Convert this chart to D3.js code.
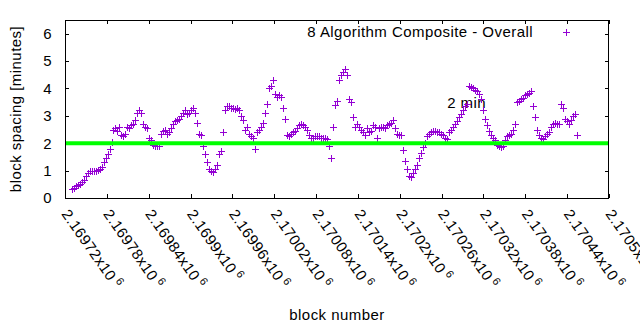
<!DOCTYPE html>
<html>
<head>
<meta charset="utf-8">
<script src="https://cdn.jsdelivr.net/npm/d3@7"></script>
<style>
    body { margin: 0; background: #fff; }
    text { font-family: "Liberation Sans", Arial, sans-serif; font-size: 15px; letter-spacing: 0.45px; fill: #000; }
</style>
</head>
<body>
<div id="container"></div>
<script>
const WIDTH = 640;
const HEIGHT = 330;
const LEFT = 65;
const RIGHT = 609;
const TOP = 20;
const BOTTOM = 198;
const TICK = 4;

var BLOCKS = [
    2169730, 2169733, 2169736, 2169739, 2169742, 2169744, 2169747, 2169750, 2169753, 2169756,
    2169759, 2169762, 2169764, 2169767, 2169770, 2169773, 2169776, 2169779, 2169782, 2169785,
    2169787, 2169789, 2169792, 2169795, 2169797, 2169800, 2169803, 2169806, 2169809, 2169812,
    2169815, 2169818, 2169820, 2169823, 2169826, 2169829, 2169832, 2169835, 2169838, 2169840,
    2169843, 2169846, 2169849, 2169852, 2169855, 2169858, 2169861, 2169863, 2169866, 2169869,
    2169872, 2169875, 2169878, 2169881, 2169883, 2169886, 2169889, 2169892, 2169895, 2169898,
    2169901, 2169904, 2169906, 2169909, 2169912, 2169915, 2169918, 2169921, 2169924, 2169926,
    2169929, 2169932, 2169935, 2169938, 2169941, 2169944, 2169947, 2169949, 2169952, 2169955,
    2169958, 2169961, 2169964, 2169967, 2169969, 2169972, 2169975, 2169978, 2169981, 2169984,
    2169987, 2169990, 2169992, 2169995, 2169998, 2170001, 2170004, 2170007, 2170010, 2170013,
    2170015, 2170018, 2170021, 2170024, 2170027, 2170030, 2170033, 2170035, 2170038, 2170041,
    2170044, 2170047, 2170050, 2170053, 2170056, 2170058, 2170061, 2170064, 2170067, 2170070,
    2170073, 2170076, 2170078, 2170081, 2170084, 2170087, 2170090, 2170093, 2170096, 2170099,
    2170101, 2170104, 2170107, 2170110, 2170113, 2170116, 2170119, 2170121, 2170124, 2170127,
    2170130, 2170133, 2170136, 2170139, 2170142, 2170144, 2170147, 2170150, 2170153, 2170156,
    2170159, 2170162, 2170164, 2170167, 2170170, 2170173, 2170176, 2170179, 2170182, 2170185,
    2170187, 2170190, 2170193, 2170196, 2170199, 2170202, 2170205, 2170208, 2170210, 2170213,
    2170216, 2170219, 2170222, 2170225, 2170228, 2170230, 2170233, 2170236, 2170239, 2170242,
    2170245, 2170248, 2170251, 2170253, 2170256, 2170259, 2170262, 2170265, 2170268, 2170271,
    2170273, 2170276, 2170279, 2170282, 2170285, 2170288, 2170291, 2170294, 2170296, 2170299,
    2170302, 2170305, 2170308, 2170311, 2170314, 2170316, 2170319, 2170322, 2170325, 2170328,
    2170331, 2170334, 2170337, 2170339, 2170342, 2170345, 2170348, 2170351, 2170354, 2170357,
    2170359, 2170362, 2170365, 2170368, 2170371, 2170374, 2170377, 2170380, 2170382, 2170385,
    2170388, 2170391, 2170394, 2170397, 2170400, 2170402, 2170405, 2170408, 2170411, 2170414,
    2170417, 2170420, 2170423, 2170425, 2170428, 2170431, 2170434, 2170437, 2170440, 2170443,
    2170446, 2170448, 2170451, 2170454
];

var SPACING = [
    0.33, 0.38, 0.42, 0.48, 0.52, 0.58, 0.65, 0.80, 0.92, 0.98,
    1.00, 0.97, 1.00, 1.02, 1.05, 1.15, 1.30, 1.45, 1.60, 1.80,
    2.05, 2.50, 2.55, 2.45, 2.60, 2.30, 2.25, 2.35, 2.60, 2.55,
    2.65, 2.70, 2.85, 3.10, 3.20, 3.10, 2.70, 2.60, 2.55, 2.20,
    2.10, 1.95, 1.90, 1.90, 1.90, 2.35, 2.45, 2.50, 2.35, 2.40,
    2.55, 2.70, 2.80, 2.85, 2.90, 3.00, 3.10, 3.20, 3.05, 3.10,
    3.20, 3.30, 3.10, 2.75, 2.35, 2.30, 1.90, 1.60, 1.30, 1.05,
    1.00, 0.95, 1.05, 1.20, 1.60, 1.70, 2.40, 3.20, 3.35, 3.35,
    3.30, 3.30, 3.25, 3.30, 3.20, 3.00, 2.85, 2.50, 2.60, 2.35,
    2.25, 2.20, 1.80, 2.40, 2.50, 2.60, 2.75, 3.10, 3.45, 4.00,
    4.10, 4.30, 3.80, 3.70, 3.75, 3.70, 3.30, 2.90, 2.30, 2.25,
    2.35, 2.40, 2.45, 2.55, 2.65, 2.70, 2.65, 2.60, 2.50, 2.30,
    2.20, 2.20, 2.25, 2.25, 2.25, 2.20, 2.20, 2.20, 2.15, 1.90,
    1.45, 2.60, 3.40, 3.55, 4.30, 4.50, 4.60, 4.70, 4.50, 3.60,
    3.50, 2.95, 2.60, 2.70, 2.60, 2.50, 2.40, 2.30, 2.55, 2.40,
    2.45, 2.65, 2.60, 2.20, 2.55, 2.60, 2.60, 2.55, 2.65, 2.70,
    2.75, 2.85, 2.55, 2.35, 2.30, 2.30, 1.75, 1.35, 1.05, 0.80,
    0.75, 0.90, 1.05, 1.20, 1.45, 1.65, 1.85, 2.00, 2.25, 2.35,
    2.40, 2.45, 2.45, 2.40, 2.40, 2.35, 2.30, 2.20, 2.15, 2.40,
    2.50, 2.60, 2.70, 2.80, 2.95, 3.05, 3.20, 3.35, 3.45, 4.10,
    4.05, 4.00, 3.95, 3.90, 3.80, 3.60, 3.20, 2.90, 2.65, 2.45,
    2.30, 2.20, 2.10, 1.95, 1.90, 1.85, 1.90, 2.10, 2.25, 2.30,
    2.35, 2.50, 2.70, 3.50, 3.55, 3.60, 3.65, 3.75, 3.80, 3.85,
    3.90, 3.35, 2.95, 2.50, 2.30, 2.20, 2.15, 2.25, 2.35, 2.40,
    2.60, 2.70, 2.75, 2.70, 2.70, 3.45, 3.30, 2.90, 2.80, 2.70,
    2.85, 3.00, 3.05, 2.30
];

var X_TICKS = [2169720, 2169780, 2169840, 2169900, 2169960, 2170020, 2170080,
    2170140, 2170200, 2170260, 2170320, 2170380, 2170440, 2170500];
var Y_TICKS = [0, 1, 2, 3, 4, 5, 6];
var Y_MAX = 6.5;
var TARGET_SPACING = 2;
var TARGET_LABEL = "2 min";
var TARGET_LABEL_AT = [2170268, 3.3];
var SERIES_NAME = "8 Algorithm Composite - Overall";
var X_TITLE = "block number";
var Y_TITLE = "block spacing [minutes]";

var POINT_COLOR = "#9400d3";
var LINE_COLOR = "#00ff00";
var CROSS = "M-3.5,0H3.5M0,-3.5V3.5";

var translate = function (x, y) {
    return "translate(" + x + "," + y + ")";
};

var xScale = d3.scaleLinear().domain([X_TICKS[0], X_TICKS[X_TICKS.length - 1]]).range([LEFT, RIGHT]);
var yScale = d3.scaleLinear().domain([0, Y_MAX]).range([BOTTOM, TOP]);

// gnuplot style "2.16972x10^6"
var mantissa = function (v) {
    return String(+(v / 1e6).toFixed(5));
};

var drawAxes = function (svg) {
    svg.append("g").attr("transform", translate(0, BOTTOM))
        .call(d3.axisBottom(xScale).tickValues(X_TICKS).tickSize(-TICK).tickSizeOuter(0).tickFormat(""));
    svg.append("g").attr("transform", translate(0, TOP))
        .call(d3.axisTop(xScale).tickValues(X_TICKS).tickSize(-TICK).tickSizeOuter(0).tickFormat(""));
    svg.append("g").attr("transform", translate(LEFT, 0))
        .call(d3.axisLeft(yScale).tickValues(Y_TICKS).tickSize(-TICK).tickSizeOuter(0)
            .tickPadding(13).tickFormat(d3.format("d")));
    svg.append("g").attr("transform", translate(RIGHT, 0))
        .call(d3.axisRight(yScale).tickValues(Y_TICKS).tickSize(-TICK).tickSizeOuter(0).tickFormat(""));

    svg.selectAll(".domain").remove();
    svg.selectAll(".tick line").attr("stroke", "#000").attr("shape-rendering", "crispEdges");
    svg.selectAll(".tick text").attr("font-size", null).attr("font-family", null).attr("fill", "#000");

    svg.append("rect")
        .attr("x", LEFT + 0.5).attr("y", TOP + 0.5)
        .attr("width", RIGHT - LEFT - 1).attr("height", BOTTOM - TOP)
        .attr("fill", "none").attr("stroke", "#000").attr("shape-rendering", "crispEdges");

    var labels = svg.append("g").selectAll("text").data(X_TICKS).enter().append("text")
        .attr("transform", function (d) { return translate(xScale(d) - 4, BOTTOM + 16) + " rotate(55)"; });
    labels.append("tspan").text(function (d) { return mantissa(d) + "x10"; });
    labels.append("tspan").attr("dx", 3).attr("dy", -6).style("font-size", "11px").text("6");

    svg.append("text").attr("x", (LEFT + RIGHT) / 2).attr("y", 320)
        .attr("text-anchor", "middle").text(X_TITLE);
    svg.append("text").attr("transform", translate(21, (TOP + BOTTOM) / 2) + " rotate(-90)")
        .attr("text-anchor", "middle").text(Y_TITLE);
};

var drawPoints = function (svg) {
    var points = BLOCKS.map(function (b, i) { return {x: b, y: SPACING[i]}; });
    svg.append("g").selectAll("path").data(points).enter().append("path")
        .attr("d", CROSS)
        .attr("transform", function (d) {
            return translate(Math.round(xScale(d.x)) + 0.5, Math.round(yScale(d.y)) + 0.5);
        })
        .attr("fill", "none").attr("stroke", POINT_COLOR).attr("stroke-width", 1)
        .attr("shape-rendering", "crispEdges");
};

var drawLegend = function (svg) {
    svg.append("text").attr("x", 533).attr("y", 37).attr("text-anchor", "end").text(SERIES_NAME);
    svg.append("path").attr("d", CROSS).attr("transform", translate(566.5, 32.5))
        .attr("fill", "none").attr("stroke", POINT_COLOR).attr("shape-rendering", "crispEdges");
};

var generateChart = function () {
    var svg = d3.select("#container").append("svg")
        .attr("width", WIDTH).attr("height", HEIGHT);

    drawAxes(svg);
    svg.append("text")
        .attr("x", xScale(TARGET_LABEL_AT[0])).attr("y", yScale(TARGET_LABEL_AT[1]))
        .text(TARGET_LABEL);
    drawPoints(svg);
    svg.append("line")
        .attr("x1", LEFT + 1).attr("x2", RIGHT - 1)
        .attr("y1", yScale(TARGET_SPACING)).attr("y2", yScale(TARGET_SPACING))
        .attr("stroke", LINE_COLOR).attr("stroke-width", 4);
    drawLegend(svg);
};

window.onload = generateChart;
</script>
</body>
</html>
